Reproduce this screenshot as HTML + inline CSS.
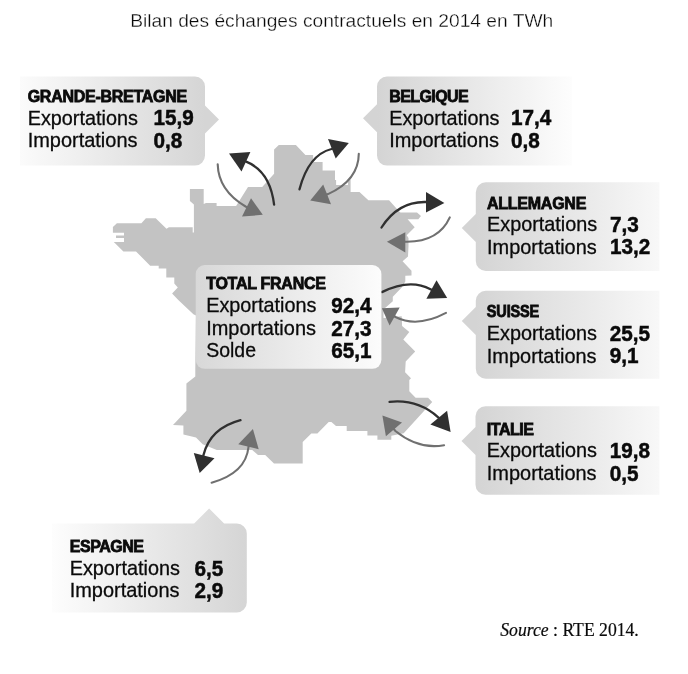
<!DOCTYPE html>
<html><head><meta charset="utf-8"><style>
html,body{margin:0;padding:0;background:#fff;width:688px;height:674px;overflow:hidden}
svg{display:block;will-change:transform;font-family:"Liberation Sans",sans-serif}
text{fill:#0a0a0a}
</style></head><body>
<svg width="688" height="674" viewBox="0 0 688 674">
<defs>
<linearGradient id="ggb" gradientUnits="userSpaceOnUse" x1="20" y1="0" x2="205" y2="0"><stop offset="0" stop-color="#fbfbfb"/><stop offset="1" stop-color="#d5d5d5"/></linearGradient>
<linearGradient id="gbe" gradientUnits="userSpaceOnUse" x1="377" y1="0" x2="572" y2="0"><stop offset="0" stop-color="#d4d4d4"/><stop offset="1" stop-color="#fdfdfd"/></linearGradient>
<linearGradient id="gal" gradientUnits="userSpaceOnUse" x1="475.8" y1="0" x2="659.4" y2="0"><stop offset="0" stop-color="#d4d4d4"/><stop offset="1" stop-color="#f8f8f8"/></linearGradient>
<linearGradient id="gsu" gradientUnits="userSpaceOnUse" x1="475.8" y1="0" x2="659.4" y2="0"><stop offset="0" stop-color="#d4d4d4"/><stop offset="1" stop-color="#f8f8f8"/></linearGradient>
<linearGradient id="git" gradientUnits="userSpaceOnUse" x1="475.5" y1="0" x2="659.4" y2="0"><stop offset="0" stop-color="#d4d4d4"/><stop offset="1" stop-color="#f8f8f8"/></linearGradient>
<linearGradient id="ges" gradientUnits="userSpaceOnUse" x1="52" y1="0" x2="246.8" y2="0"><stop offset="0" stop-color="#fdfdfd"/><stop offset="1" stop-color="#d5d5d5"/></linearGradient>
<linearGradient id="gfr" gradientUnits="userSpaceOnUse" x1="195.7" y1="0" x2="381.4" y2="0"><stop offset="0" stop-color="#d8d8d8"/><stop offset="1" stop-color="#fcfcfc"/></linearGradient>
</defs>
<polygon points="112.9,226.9 116.9,223.2 141.4,223.2 145.9,218.2 155.7,218.2 166.5,228.8 168.9,227.2 192.7,227.2 192.7,232.5 193.9,232.5 193.9,204.5 189.9,200.9 189.9,188.9 203.7,188.9 203.7,204.0 206.0,203.0 216.6,203.0 216.6,205.9 236.1,205.9 248.0,186.9 262.2,186.9 274.1,173.8 274.1,149.5 278.8,145.0 295.9,145.0 305.4,154.9 313.1,154.9 313.1,162.0 322.6,162.0 322.6,170.4 335.0,170.4 335.0,180.0 336.1,180.0 336.1,184.9 348.0,184.9 348.0,179.3 350.6,179.3 350.6,191.9 359.5,191.9 368.4,200.2 389.1,200.2 399.2,211.5 400.5,212.6 417.0,212.6 421.0,216.1 418.3,219.2 407.6,219.2 414.7,227.3 406.7,235.3 408.5,238.0 408.5,246.0 408.0,256.6 402.6,261.3 411.5,270.8 411.5,275.5 405.3,275.8 405.3,281.6 401.7,287.4 392.8,296.7 392.8,301.2 385.7,307.4 383.5,309.0 383.5,318.0 401.7,316.3 402.1,325.9 409.3,331.9 403.3,339.6 415.2,351.5 405.7,361.5 405.1,372.2 411.0,378.2 409.3,380.0 409.3,391.2 415.6,397.7 428.1,397.7 432.2,401.9 403.7,433.3 391.3,435.7 391.3,439.7 377.4,439.7 377.4,435.4 367.4,435.4 367.4,431.0 346.7,431.0 346.7,426.0 336.0,426.0 331.4,422.0 328.7,422.0 317.4,433.4 311.3,433.4 302.7,442.0 302.7,463.5 274.0,463.5 265.2,455.0 258.0,455.0 252.2,450.0 216.8,450.1 202.7,444.2 196.0,437.5 183.4,434.5 183.4,425.6 173.0,424.9 186.4,410.8 186.4,383.5 195.3,376.6 195.3,368.0 196.0,315.4 193.4,314.3 178.3,300.0 172.1,293.4 177.8,287.6 174.3,283.6 174.3,277.4 166.3,277.4 166.3,268.5 158.7,268.5 158.7,265.8 150.2,265.8 136.0,251.4 123.4,251.4 113.8,242.0 124.0,242.0 124.0,238.0 116.0,238.0 116.0,235.4 124.0,235.4 124.0,232.7 112.9,232.7" fill="#c3c3c3"/>
<path d="M274.1,204.7 Q270.1,170.9 245.6,161.4 L240.3,159.0" fill="none" stroke="#303030" stroke-width="2.3" stroke-linecap="round"/><polygon points="229.0,153.6 250.4,151.9 241.5,171.5" fill="#303030"/>
<path d="M217.7,164.3 Q218.4,190.6 245.6,206.5 L251.9,209.9" fill="none" stroke="#707070" stroke-width="2.1" stroke-linecap="round"/><polygon points="251.0,198.2 262.8,214.8 242.0,216.6" fill="#707070"/>
<path d="M299.5,189.3 Q308.5,154.8 331.5,149 L337.5,146.8" fill="none" stroke="#303030" stroke-width="2.3" stroke-linecap="round"/><polygon points="328.0,138.9 348.8,143.1 335.7,158.5" fill="#303030"/>
<path d="M358.8,153.7 Q358.6,180.1 328,194.1 L321.5,196.5" fill="none" stroke="#707070" stroke-width="2.1" stroke-linecap="round"/><polygon points="323.2,184.6 331.0,204.2 310.2,200.6" fill="#707070"/>
<path d="M381.5,227.5 Q398.2,201.2 426,202 L432.1,202.5" fill="none" stroke="#303030" stroke-width="2.3" stroke-linecap="round"/><polygon points="426.0,191.9 444.4,203.1 426.0,212.6" fill="#303030"/>
<path d="M449.8,217.4 Q438.4,242.4 405.3,241.7 L399.2,242.1" fill="none" stroke="#707070" stroke-width="2.1" stroke-linecap="round"/><polygon points="405.3,232.2 386.9,241.7 405.3,252.4" fill="#707070"/>
<path d="M381.9,292.1 Q409.8,278.1 430.5,289.2 L436.7,292.4" fill="none" stroke="#303030" stroke-width="2.3" stroke-linecap="round"/><polygon points="436.5,280.3 447.2,298.1 426.4,298.7" fill="#303030"/>
<path d="M446,312.9 Q417.2,328.1 395.5,317 L390.4,313.7" fill="none" stroke="#707070" stroke-width="2.1" stroke-linecap="round"/><polygon points="399.7,307.6 381.9,308.2 389.6,325.4" fill="#707070"/>
<path d="M389.5,401.9 Q417.4,398.8 438.2,417.3 L442.7,422.4" fill="none" stroke="#303030" stroke-width="2.3" stroke-linecap="round"/><polygon points="447.1,410.8 450.6,432.1 430.4,424.4" fill="#303030"/>
<path d="M444.1,445.2 Q418.6,449.9 395.4,431 L390.1,424.8" fill="none" stroke="#707070" stroke-width="2.1" stroke-linecap="round"/><polygon points="382.4,415.5 402.0,422.6 385.9,436.3" fill="#707070"/>
<path d="M240.5,420.2 Q210.1,428.2 203.4,455.3 L202.7,461.5" fill="none" stroke="#303030" stroke-width="2.3" stroke-linecap="round"/><polygon points="193.8,453.1 214.5,458.2 199.7,473.1" fill="#303030"/>
<path d="M211.6,482.7 Q245.9,473.1 248.5,447 L250.0,440.8" fill="none" stroke="#707070" stroke-width="2.1" stroke-linecap="round"/><polygon points="252.9,428.9 258.7,449.2 238.3,444.2" fill="#707070"/>
<path d="M20,76.6 L195,76.6 A10,10 0 0 1 205,86.6 L205,105.5 L219,119.5 L205,133.5 L205,155.6 A10,10 0 0 1 195,165.6 L20,165.6 L20,76.6 Z" fill="url(#ggb)"/>
<path d="M387,76.6 L572,76.6 L572,165.6 L387,165.6 A10,10 0 0 1 377,155.6 L377,132.3 L363,118.3 L377,104.3 L377,86.6 A10,10 0 0 1 387,76.6 Z" fill="url(#gbe)"/>
<path d="M485.8,182.2 L659.4,182.2 L659.4,271 L485.8,271 A10,10 0 0 1 475.8,261 L475.8,242 L461.8,228 L475.8,214 L475.8,192.2 A10,10 0 0 1 485.8,182.2 Z" fill="url(#gal)"/>
<path d="M485.8,290.7 L659.4,290.7 L659.4,378.8 L485.8,378.8 A10,10 0 0 1 475.8,368.8 L475.8,335 L461.8,321 L475.8,307 L475.8,300.7 A10,10 0 0 1 485.8,290.7 Z" fill="url(#gsu)"/>
<path d="M485.5,406.3 L659.4,406.3 L659.4,494.8 L485.5,494.8 A10,10 0 0 1 475.5,484.8 L475.5,455 L461.5,441 L475.5,427 L475.5,416.3 A10,10 0 0 1 485.5,406.3 Z" fill="url(#git)"/>
<path d="M52,523.6 L194.1,523.6 L209.1,508.6 L224.1,523.6 L236.8,523.6 A10,10 0 0 1 246.8,533.6 L246.8,602.4 A10,10 0 0 1 236.8,612.4 L52,612.4 L52,523.6 Z" fill="url(#ges)"/>
<path d="M204.7,265 L372.4,265 A9,9 0 0 1 381.4,274 L381.4,359.8 A9,9 0 0 1 372.4,368.8 L204.7,368.8 A9,9 0 0 1 195.7,359.8 L195.7,274 A9,9 0 0 1 204.7,265 Z" fill="url(#gfr)"/>
<text x="27.7" y="101.8" font-size="16" font-weight="bold" stroke="#0a0a0a" stroke-width="0.8" letter-spacing="-0.27">GRANDE-BRETAGNE</text>
<text x="27.7" y="124.8" font-size="21" font-weight="normal" stroke="#0a0a0a" stroke-width="0.3" textLength="110.2" lengthAdjust="spacingAndGlyphs">Exportations</text>
<text x="153.5" y="125.39999999999999" font-size="21.5" font-weight="bold" stroke="#0a0a0a" stroke-width="0.5" textLength="40.3" lengthAdjust="spacingAndGlyphs">15,9</text>
<text x="27.7" y="147.1" font-size="21" font-weight="normal" stroke="#0a0a0a" stroke-width="0.3" textLength="109.8" lengthAdjust="spacingAndGlyphs">Importations</text>
<text x="153.5" y="147.7" font-size="21.5" font-weight="bold" stroke="#0a0a0a" stroke-width="0.5" textLength="28.8" lengthAdjust="spacingAndGlyphs">0,8</text>
<text x="389.2" y="101.8" font-size="16" font-weight="bold" stroke="#0a0a0a" stroke-width="0.8" letter-spacing="-0.58">BELGIQUE</text>
<text x="389.2" y="124.7" font-size="21" font-weight="normal" stroke="#0a0a0a" stroke-width="0.3" textLength="110.2" lengthAdjust="spacingAndGlyphs">Exportations</text>
<text x="510.9" y="125.3" font-size="21.5" font-weight="bold" stroke="#0a0a0a" stroke-width="0.5" textLength="40.3" lengthAdjust="spacingAndGlyphs">17,4</text>
<text x="389.2" y="147.2" font-size="21" font-weight="normal" stroke="#0a0a0a" stroke-width="0.3" textLength="109.8" lengthAdjust="spacingAndGlyphs">Importations</text>
<text x="510.9" y="147.79999999999998" font-size="21.5" font-weight="bold" stroke="#0a0a0a" stroke-width="0.5" textLength="28.8" lengthAdjust="spacingAndGlyphs">0,8</text>
<text x="487" y="208.7" font-size="16" font-weight="bold" stroke="#0a0a0a" stroke-width="0.8" letter-spacing="-0.25">ALLEMAGNE</text>
<text x="487" y="231.1" font-size="21" font-weight="normal" stroke="#0a0a0a" stroke-width="0.3" textLength="110.2" lengthAdjust="spacingAndGlyphs">Exportations</text>
<text x="610" y="231.7" font-size="21.5" font-weight="bold" stroke="#0a0a0a" stroke-width="0.5" textLength="28.8" lengthAdjust="spacingAndGlyphs">7,3</text>
<text x="487" y="253.5" font-size="21" font-weight="normal" stroke="#0a0a0a" stroke-width="0.3" textLength="109.8" lengthAdjust="spacingAndGlyphs">Importations</text>
<text x="610" y="254.1" font-size="21.5" font-weight="bold" stroke="#0a0a0a" stroke-width="0.5" textLength="40.3" lengthAdjust="spacingAndGlyphs">13,2</text>
<text transform="translate(486.8,317.1) scale(0.91,1)" x="0" y="0" font-size="16" font-weight="bold" stroke="#0a0a0a" stroke-width="0.8" letter-spacing="-0.2">SUISSE</text>
<text x="486.8" y="340.1" font-size="21" font-weight="normal" stroke="#0a0a0a" stroke-width="0.3" textLength="110.2" lengthAdjust="spacingAndGlyphs">Exportations</text>
<text x="609.8" y="340.70000000000005" font-size="21.5" font-weight="bold" stroke="#0a0a0a" stroke-width="0.5" textLength="40.3" lengthAdjust="spacingAndGlyphs">25,5</text>
<text x="486.8" y="362.6" font-size="21" font-weight="normal" stroke="#0a0a0a" stroke-width="0.3" textLength="109.8" lengthAdjust="spacingAndGlyphs">Importations</text>
<text x="609.8" y="363.20000000000005" font-size="21.5" font-weight="bold" stroke="#0a0a0a" stroke-width="0.5" textLength="28.8" lengthAdjust="spacingAndGlyphs">9,1</text>
<text x="486.8" y="435" font-size="16" font-weight="bold" stroke="#0a0a0a" stroke-width="0.8" letter-spacing="-0.45">ITALIE</text>
<text x="486.8" y="457.3" font-size="21" font-weight="normal" stroke="#0a0a0a" stroke-width="0.3" textLength="110.2" lengthAdjust="spacingAndGlyphs">Exportations</text>
<text x="609.8" y="457.90000000000003" font-size="21.5" font-weight="bold" stroke="#0a0a0a" stroke-width="0.5" textLength="40.3" lengthAdjust="spacingAndGlyphs">19,8</text>
<text x="486.8" y="480" font-size="21" font-weight="normal" stroke="#0a0a0a" stroke-width="0.3" textLength="109.8" lengthAdjust="spacingAndGlyphs">Importations</text>
<text x="609.8" y="480.6" font-size="21.5" font-weight="bold" stroke="#0a0a0a" stroke-width="0.5" textLength="28.8" lengthAdjust="spacingAndGlyphs">0,5</text>
<text x="69.7" y="551.8" font-size="16" font-weight="bold" stroke="#0a0a0a" stroke-width="0.8" letter-spacing="-0.45">ESPAGNE</text>
<text x="69.7" y="574.9" font-size="21" font-weight="normal" stroke="#0a0a0a" stroke-width="0.3" textLength="110.2" lengthAdjust="spacingAndGlyphs">Exportations</text>
<text x="194.6" y="575.5" font-size="21.5" font-weight="bold" stroke="#0a0a0a" stroke-width="0.5" textLength="28.8" lengthAdjust="spacingAndGlyphs">6,5</text>
<text x="69.7" y="597.1" font-size="21" font-weight="normal" stroke="#0a0a0a" stroke-width="0.3" textLength="109.8" lengthAdjust="spacingAndGlyphs">Importations</text>
<text x="194.6" y="597.7" font-size="21.5" font-weight="bold" stroke="#0a0a0a" stroke-width="0.5" textLength="28.8" lengthAdjust="spacingAndGlyphs">2,9</text>
<text x="206.2" y="289" font-size="16" font-weight="bold" stroke="#0a0a0a" stroke-width="0.8" letter-spacing="-0.27">TOTAL FRANCE</text>
<text x="206.2" y="312.3" font-size="21" font-weight="normal" stroke="#0a0a0a" stroke-width="0.3" textLength="110.2" lengthAdjust="spacingAndGlyphs">Exportations</text>
<text x="331.3" y="312.90000000000003" font-size="21.5" font-weight="bold" stroke="#0a0a0a" stroke-width="0.5" textLength="40.3" lengthAdjust="spacingAndGlyphs">92,4</text>
<text x="206.2" y="335.2" font-size="21" font-weight="normal" stroke="#0a0a0a" stroke-width="0.3" textLength="109.8" lengthAdjust="spacingAndGlyphs">Importations</text>
<text x="331.3" y="335.8" font-size="21.5" font-weight="bold" stroke="#0a0a0a" stroke-width="0.5" textLength="40.3" lengthAdjust="spacingAndGlyphs">27,3</text>
<text x="206.2" y="356.9" font-size="21" font-weight="normal" stroke="#0a0a0a" stroke-width="0.3" textLength="49.8" lengthAdjust="spacingAndGlyphs">Solde</text>
<text x="331.3" y="357.5" font-size="21.5" font-weight="bold" stroke="#0a0a0a" stroke-width="0.5" textLength="40.3" lengthAdjust="spacingAndGlyphs">65,1</text>
<text x="130.2" y="26.6" font-size="18" fill="#3a3a3a" textLength="423" lengthAdjust="spacingAndGlyphs" stroke="#fff" stroke-width="0.3">Bilan des échanges contractuels en 2014 en TWh</text>
<text x="500.3" y="635.6" font-size="18" font-family="Liberation Serif" fill="#111" stroke="#111" stroke-width="0.2" textLength="138.5" lengthAdjust="spacingAndGlyphs"><tspan font-style="italic">Source</tspan> : RTE 2014.</text>
</svg></body></html>
